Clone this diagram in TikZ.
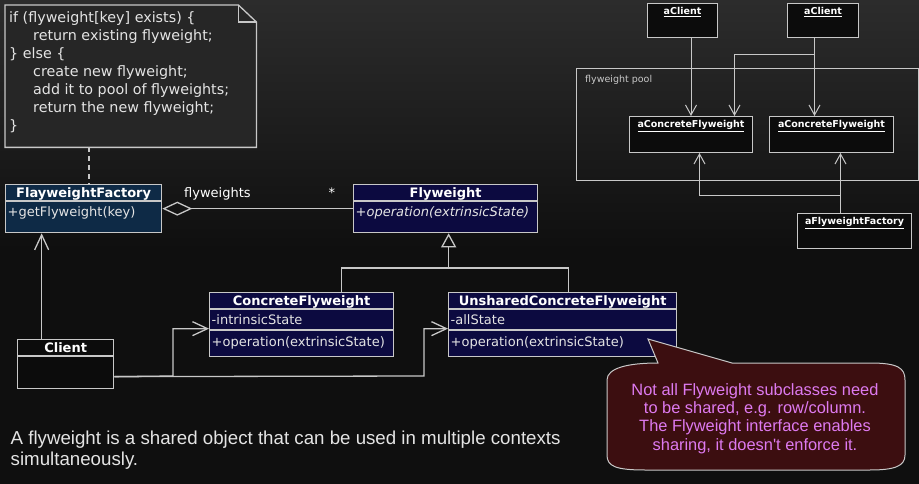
\documentclass[tikz,border=0pt]{standalone}
\usepackage{fontspec}
\setmainfont{DejaVu Sans}
\newfontfamily\arialfont{Liberation Sans}
\usetikzlibrary{arrows.meta,positioning}

\definecolor{bgtop}{RGB}{44,44,44}
\definecolor{bgbot}{RGB}{15,15,15}
\definecolor{notefill}{RGB}{38,38,38}
\definecolor{umlline}{RGB}{200,200,200}
\definecolor{umltext}{RGB}{228,228,228}
\definecolor{factoryblue}{RGB}{14,42,70}
\definecolor{classnavy}{RGB}{12,10,64}
\definecolor{objfill}{RGB}{12,12,12}
\definecolor{remarkfill}{RGB}{60,14,16}
\definecolor{remarktext}{RGB}{222,122,240}

\tikzset{
  classbox/.style={draw=umlline, line width=1.3pt, anchor=north west, inner sep=0pt},
  classname/.style={anchor=base, text=white, inner sep=0pt, font=\bfseries\fontsize{13}{15}\selectfont},
  member/.style={anchor=base west, text=umltext, inner sep=0pt, font=\fontsize{13}{15}\selectfont},
  objbox/.style={draw=umlline, line width=1pt, fill=objfill, anchor=north west, inner sep=0pt},
  objname/.style={anchor=base, text=white, inner sep=0pt, font=\bfseries\fontsize{9.5}{11}\selectfont},
  link/.style={umlline, line width=1.3pt},
  uses/.style={link, -{Straight Barb[length=15pt, width=14pt]}},
  objlink/.style={umlline, line width=1pt, -{Straight Barb[length=10pt, width=11pt]}},
}

\begin{document}
\begin{tikzpicture}[x=1pt, y=-1pt]
  \useasboundingbox (0,0) rectangle (919,484);
  \shade[top color=bgtop, bottom color=bgbot] (0,0) rectangle (919,250);
  \fill[bgbot] (0,250) rectangle (919,484);

  % note with the factory code
  \node[anchor=north west, inner sep=0pt, minimum width=251, minimum height=142] (note) at (5,5) {};
  \draw[link, fill=notefill] (note.north west) -- ([xshift=-18pt]note.north east)
    -- ([yshift=-17pt]note.north east) -- (note.south east) -- (note.south west) -- cycle;
  \draw[link] ([xshift=-18pt]note.north east) |- ([yshift=-17pt]note.north east);
  \node[anchor=north west, align=left, inner sep=0pt, text=umltext, font=\fontsize{14.3}{18}\selectfont] (notecode) at (9,11.5)
    {if (flyweight[key] exists) \{\\
     \hspace*{24pt}return existing flyweight;\\
     \} else \{\\
     \hspace*{24pt}create new flyweight;\\
     \hspace*{24pt}add it to pool of flyweights;\\
     \hspace*{24pt}return the new flyweight;\\
     \}};
  \coordinate (notefoot) at ([xshift=84pt]note.south west);

  % classes
  \node[classbox, fill=factoryblue, minimum width=156, minimum height=48] (factory) at (5,184) {};
  \draw[link] ([yshift=-17pt]factory.north west) -- ([yshift=-17pt]factory.north east);
  \node[classname] (factory-name) at ([yshift=-13pt]factory.north) {FlayweightFactory};
  \node[member] (factory-op) at ([xshift=2.5pt, yshift=-32pt]factory.north west) {+getFlyweight(key)};

  \node[classbox, fill=classnavy, minimum width=184, minimum height=48] (flyweight) at (353,184) {};
  \draw[link] ([yshift=-17pt]flyweight.north west) -- ([yshift=-17pt]flyweight.north east);
  \node[classname] (flyweight-name) at ([yshift=-13pt]flyweight.north) {Flyweight};
  \node[member] (flyweight-op) at ([xshift=2.5pt, yshift=-32pt]flyweight.north west) {\itshape +operation(extrinsicState)};

  \node[classbox, fill=classnavy, minimum width=184, minimum height=64] (concrete) at (209,292) {};
  \draw[link] ([yshift=-17pt]concrete.north west) -- ([yshift=-17pt]concrete.north east);
  \draw[link] ([yshift=-38pt]concrete.north west) -- ([yshift=-38pt]concrete.north east);
  \node[classname] (concrete-name) at ([yshift=-13pt]concrete.north) {ConcreteFlyweight};
  \node[member] (concrete-attr) at ([xshift=2.5pt, yshift=-32pt]concrete.north west) {-intrinsicState};
  \node[member] (concrete-op) at ([xshift=2.5pt, yshift=-54pt]concrete.north west) {+operation(extrinsicState)};

  \node[classbox, fill=classnavy, minimum width=228, minimum height=64] (unshared) at (448,292) {};
  \draw[link] ([yshift=-17pt]unshared.north west) -- ([yshift=-17pt]unshared.north east);
  \draw[link] ([yshift=-38pt]unshared.north west) -- ([yshift=-38pt]unshared.north east);
  \node[classname] (unshared-name) at ([yshift=-13pt]unshared.north) {UnsharedConcreteFlyweight};
  \node[member] (unshared-attr) at ([xshift=2.5pt, yshift=-32pt]unshared.north west) {-allState};
  \node[member] (unshared-op) at ([xshift=2.5pt, yshift=-54pt]unshared.north west) {+operation(extrinsicState)};

  \node[classbox, fill=objfill, minimum width=96, minimum height=49] (client) at (17,339) {};
  \draw[link] ([yshift=-17pt]client.north west) -- ([yshift=-17pt]client.north east);
  \node[classname] (client-name) at ([yshift=-13.5pt]client.north) {Client};

  % relations
  \draw[link, dash pattern=on 5pt off 4pt] (notefoot) -- (notefoot |- factory.north);
  \draw[link, {Diamond[open, length=30pt, width=14pt]}-] (factory.east) -- (flyweight.west);
  \node[member, text=white] (role) at (184,197) {flyweights};
  \node[member, text=white] (mult) at (328.5,198) {*};

  \coordinate (flybase) at ([xshift=3pt]flyweight.south);
  \coordinate (fork) at (flybase |- 0,268);
  \draw[link, -{Triangle[open, length=14pt, width=15pt]}] ([xshift=40pt]concrete.north) |- (fork) -- (flybase);
  \draw[link] ([xshift=6pt]unshared.north) |- (fork);

  \draw[uses] ([xshift=-24pt]client.north) coordinate (clientup) -- (clientup |- factory.south);
  \draw[uses] ([yshift=-12.5pt]client.east) -- (173,376) |- ([yshift=-4pt]concrete.west);
  \draw[uses] ([yshift=-12.5pt]client.east) -- (424,376) |- ([yshift=-4pt]unshared.west);

  % remark bubble
  \coordinate (remarktip) at (648,339);
  \draw[umlline, line width=1pt, fill=remarkfill] (607,380) .. controls (607,368) and (628,363) .. (658,363)
    -- (remarktip) -- (732,363) -- (870,363) .. controls (898,363) and (905,368) .. (905,380)
    -- (905,455) .. controls (905,466) and (895,470) .. (870,470)
    -- (645,470) .. controls (615,470) and (607,466) .. (607,455) -- cycle;
  \node[align=center, inner sep=0pt, text=remarktext, font=\arialfont\fontsize{16.4}{18.3}\selectfont] (remark) at (755,418.5)
    {Not all Flyweight subclasses need\\to be shared, e.g. row/column.\\The Flyweight interface enables\\sharing, it doesn't enforce it.};

  \node[anchor=north west, align=left, inner sep=0pt, text=umltext, font=\arialfont\fontsize{18.7}{21.5}\selectfont] (summary) at (10.5,430.5)
    {A flyweight is a shared object that can be used in multiple contexts\\simultaneously.};

  % object view
  \node[objbox, minimum width=70, minimum height=34] (aclient1) at (647,3) {};
  \node[objname] (aclient1-name) at ([yshift=-11.5pt]aclient1.north) {\underline{aClient}};
  \node[objbox, minimum width=71, minimum height=34] (aclient2) at (787,3) {};
  \node[objname] (aclient2-name) at ([yshift=-11.5pt]aclient2.north) {\underline{aClient}};

  \node[draw=umlline, line width=1.3pt, anchor=north west, inner sep=0pt, minimum width=342, minimum height=112] (pool) at (576,68) {};
  \node[anchor=base west, inner sep=0pt, text=umlline, font=\fontsize{9.5}{11}\selectfont] (pool-name) at (585,83) {flyweight pool};

  \node[objbox, minimum width=123, minimum height=36] (acf1) at (629,116) {};
  \node[objname] (acf1-name) at ([yshift=-11.7pt]acf1.north) {\underline{aConcreteFlyweight}};
  \node[objbox, minimum width=124, minimum height=36] (acf2) at (769,116) {};
  \node[objname] (acf2-name) at ([yshift=-11.7pt]acf2.north) {\underline{aConcreteFlyweight}};
  \node[objbox, minimum width=114, minimum height=35] (aff) at (797,213) {};
  \node[objname] (aff-name) at ([yshift=-11.3pt]aff.north) {\underline{aFlyweightFactory}};

  \draw[objlink] (aclient1.south -| acf1.north) -- (acf1.north);
  \draw[objlink] ([xshift=-8.5pt]aclient2.south) coordinate (a2out) -- (a2out |- acf2.north);
  \draw[objlink] (a2out |- 0,55) -| ([xshift=43.5pt]acf1.north);
  \draw[objlink] ([xshift=-14pt]aff.north) coordinate (affout) -- (affout |- acf2.south);
  \draw[objlink] (affout |- 0,196) -| ([xshift=8.5pt]acf1.south);
\end{tikzpicture}
\end{document}
